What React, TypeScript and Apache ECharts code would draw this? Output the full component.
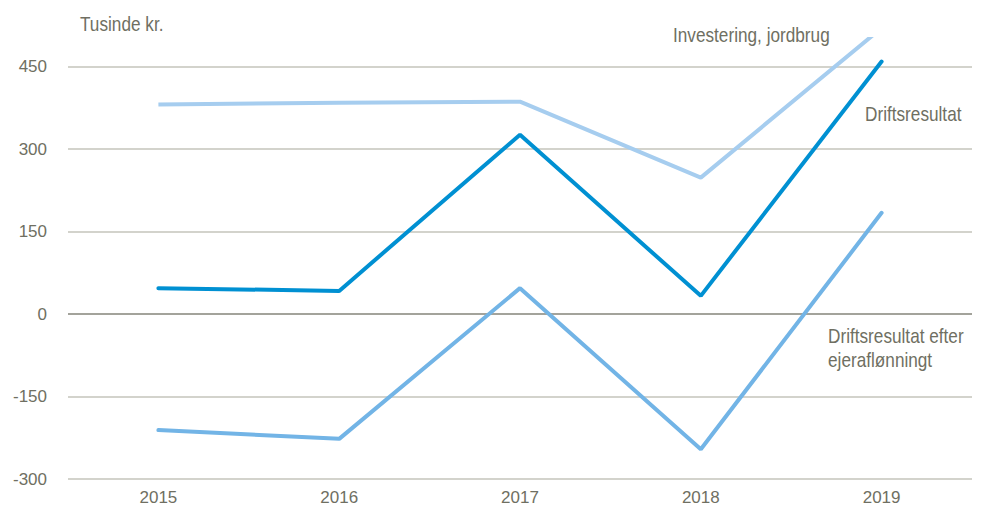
import React, { useEffect, useRef } from "react";
import * as echarts from "echarts";

const categories = ["2015", "2016", "2017", "2018", "2019"];
const investering = [381, 384, 386, 248, 520];
const driftsresultat = [47, 42, 326, 33, 459];
const efterEjerafloenning = [-211, -227, 47, -246, 184];

const seriesNames = ["Investering, jordbrug", "Driftsresultat", "Driftsresultat efter ejeraflønningt"];
const yTicks = { min: -300, max: 500, interval: 150 };

const textColor = "#6f6f62";
const font = "'Liberation Sans', Arial, sans-serif";

export default function App() {
  const ref = useRef<HTMLDivElement>(null);
  useEffect(() => {
    if (!ref.current) return;
    const chart = echarts.init(ref.current, undefined, { renderer: "svg" });
    const lineColors = ["#c4c4bb", "#c4c4bb", "#85857a", "#c4c4bb", "#c4c4bb", "#c4c4bb", "#c4c4bb"];
    const label = (text: string, x: number, y: number) => ({
      type: "text",
      x,
      y,
      scaleX: 0.86,
      style: { text, fill: textColor, font: `20px ${font}`, textVerticalAlign: "middle" },
    });
    chart.setOption({
      animation: false,
      backgroundColor: "#ffffff",
      grid: { left: 68, right: 9, top: 39, bottom: 34 },
      xAxis: {
        type: "category",
        data: categories,
        boundaryGap: true,
        axisLine: { show: false },
        axisTick: { show: false },
        axisLabel: { color: textColor, fontSize: 17, fontFamily: font, margin: 10 },
      },
      yAxis: {
        type: "value",
        min: yTicks.min,
        max: yTicks.max,
        interval: yTicks.interval,
        axisLine: { show: false },
        axisTick: { show: false },
        axisLabel: { color: textColor, fontSize: 17, fontFamily: font, margin: 21, showMaxLabel: false },
        splitLine: { show: true, showMaxLine: false, lineStyle: { color: lineColors, width: 1.5 } },
      },
      series: [
        {
          name: seriesNames[0],
          type: "line",
          data: investering,
          symbol: "none",
          clip: true,
          lineStyle: { color: "#a6cdef", width: 4 },
        },
        {
          name: seriesNames[1],
          type: "line",
          data: driftsresultat,
          symbol: "none",
          lineStyle: { color: "#0090d2", width: 4, cap: "round" },
        },
        {
          name: seriesNames[2],
          type: "line",
          data: efterEjerafloenning,
          symbol: "none",
          lineStyle: { color: "#72b4e6", width: 4, cap: "round" },
        },
      ],
      graphic: [
        label("Tusinde kr.", 80, 24),
        label(seriesNames[0], 673, 35),
        label(seriesNames[1], 865, 114),
        label("Driftsresultat efter", 828, 336),
        label("ejeraflønningt", 828, 360),
      ],
    });
    return () => chart.dispose();
  }, []);
  return <div ref={ref} style={{ width: 981, height: 513, position: "fixed", left: 0, top: 0 }} />;
}
